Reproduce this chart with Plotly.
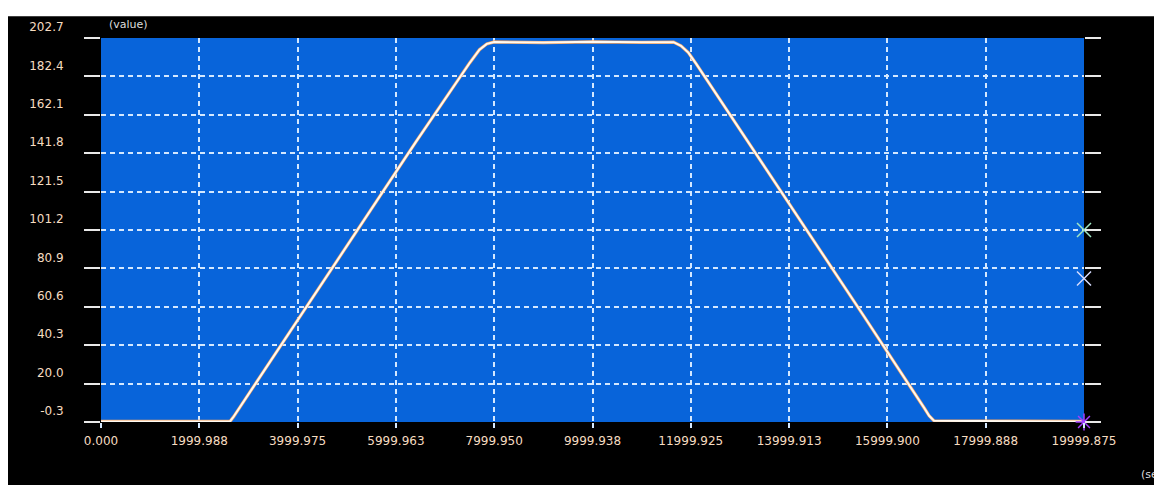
import plotly.graph_objects as go

# ---- data ----
time_s = [0, 2625, 2700, 2800, 4000, 5200, 6400, 7500, 7700, 7850, 8000, 9000,
          10000, 11000, 11650, 11800, 11950, 12100, 13500, 14350, 15500,
          16750, 16850, 16950, 19999.875]
value = [0.0, 0.0, 2.6, 6.5, 53.2, 100.6, 147.5, 189.5, 196.5, 199.6, 200.6, 200.3,
         200.7, 200.4, 200.5, 198.6, 195.0, 189.4, 134.8, 101.5, 56.5,
         7.1, 3.0, 0.3, 0.0]

x_ticks = [0.000, 1999.988, 3999.975, 5999.963, 7999.950, 9999.938,
           11999.925, 13999.913, 15999.900, 17999.888, 19999.875]
x_labels = ["0.000", "1999.988", "3999.975", "5999.963", "7999.950", "9999.938",
            "11999.925", "13999.913", "15999.900", "17999.888", "19999.875"]
y_ticks = [-0.3, 20.0, 40.3, 60.6, 80.9, 101.2, 121.5, 141.8, 162.1, 182.4, 202.7]
y_labels = ["-0.3", "20.0", "40.3", "60.6", "80.9", "101.2", "121.5", "141.8",
            "162.1", "182.4", "202.7"]

cursor_x = [19999.875, 19999.875, 19999.875]
cursor_y = [101.2, 75.6, -0.3]
cursor_symbols = ["x-thin-open", "x-thin-open", "asterisk-open"]
cursor_colors = ["#9fe6c4", "#d6dcff", "#a23cff"]

fig = go.Figure()
# orange fringe of the signal line
fig.add_trace(go.Scatter(x=time_s, y=value, mode="lines",
                         line=dict(color="#f0a060", width=3.2),
                         cliponaxis=False, hoverinfo="skip", showlegend=False))
fig.add_trace(go.Scatter(x=time_s, y=value, mode="lines",
                         line=dict(color="#fffaf2", width=2),
                         cliponaxis=False, showlegend=False))
fig.add_trace(go.Scatter(x=cursor_x, y=cursor_y, mode="markers",
                         marker=dict(symbol=cursor_symbols, size=14,
                                     line=dict(color=cursor_colors, width=1.5),
                                     color=cursor_colors),
                         cliponaxis=False, showlegend=False))

font = dict(family="DejaVu Sans", size=12, color="#f6dcc0")

fig.update_layout(
    width=1162, height=485,
    margin=dict(l=93, r=86, t=26, b=71),
    paper_bgcolor="#000000",
    plot_bgcolor="#0864da",
    showlegend=False,
    xaxis=dict(range=[0, 19999.875], tickvals=x_ticks, ticktext=x_labels,
               showgrid=True, gridcolor="#d4e8ff", gridwidth=1.5,
               griddash="5px,4px", zeroline=False, showline=False,
               ticks="outside", ticklen=5, tickwidth=2, tickcolor="#d4e8ff",
               tickfont=font, ticklabelstandoff=3, mirror=False, fixedrange=True),
    yaxis=dict(range=[-0.3, 202.7], tickvals=y_ticks, ticktext=y_labels,
               showgrid=True, gridcolor="#d4e8ff", gridwidth=1.5,
               griddash="5px,4px", zeroline=False, showline=False,
               ticks="outside", ticklen=16, tickwidth=2, tickcolor="#e8e8e8",
               mirror="ticks", tickfont=font, ticklabelstandoff=18,
               ticklabelshift=-11, fixedrange=True),
    shapes=[
        dict(type="rect", xref="paper", yref="paper", x0=-0.2, x1=1.2,
             y0=1.0567, y1=1.3, fillcolor="#ffffff", line=dict(width=0), layer="below"),
    ],
    annotations=[
        dict(text="(value)", xref="paper", yref="paper", x=0.0061, y=1.036,
             xanchor="left", yanchor="middle", showarrow=False,
             font=dict(family="DejaVu Sans", size=11, color="#dcdcdc")),
        dict(text="(sec)", xref="paper", yref="paper", x=1.056, y=-0.1366,
             xanchor="left", yanchor="middle", showarrow=False,
             font=dict(family="DejaVu Sans", size=11, color="#dcdcdc")),
    ],
)

fig.write_html("out.html")
